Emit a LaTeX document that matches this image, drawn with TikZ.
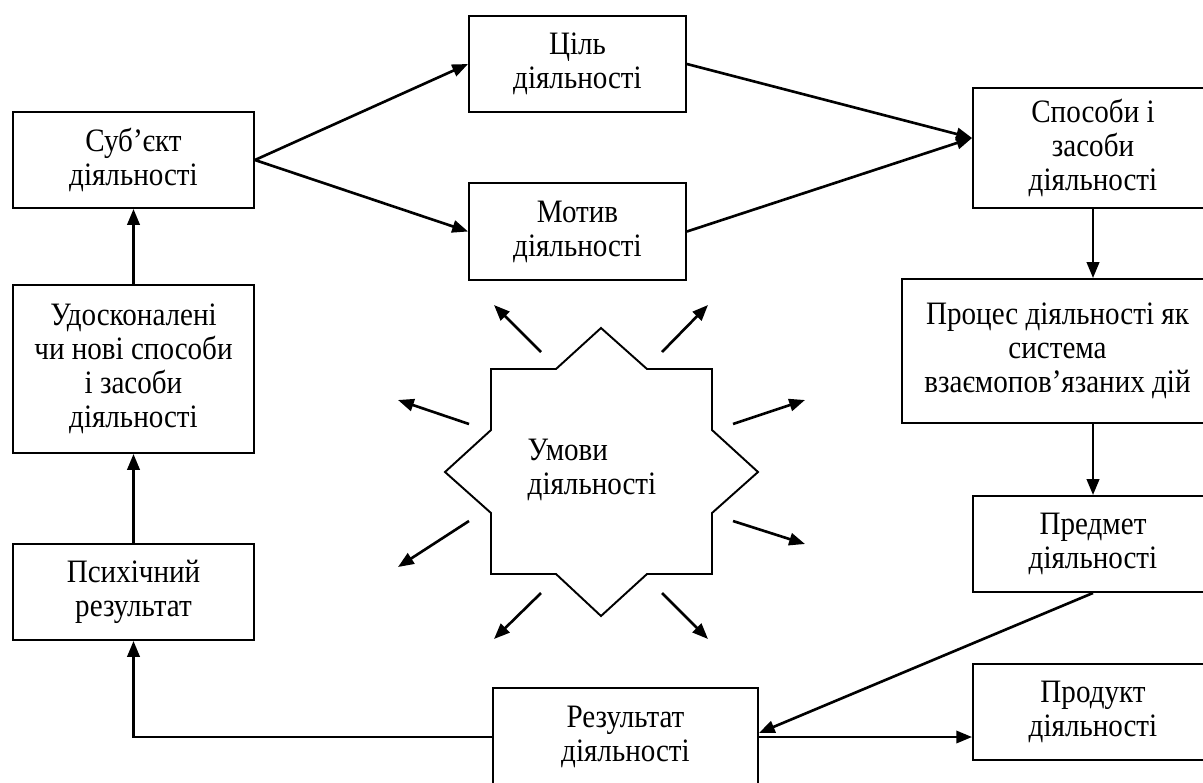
\documentclass[tikz,border=0pt]{standalone}
\usepackage{fontspec}
\setmainfont{Liberation Serif}[FakeStretch=0.89]
\usetikzlibrary{arrows.meta,calc}
\begin{document}
\begin{tikzpicture}[
    x=0.02cm, y=-0.02cm,
    every node/.style={align=center, inner sep=0pt, font=\fontsize{18.6}{19.3}\selectfont},
    box/.style={rectangle, draw, line width=1.1pt}, % boxes of the scheme
    link/.style={line width=1.5pt, -{Triangle[length=9pt,width=7pt]}},
    ray/.style={line width=1.5pt, -{Triangle[length=9pt,width=7pt]}} % rays of the star
]
\clip (0,0) rectangle (1203,782);

% left column
\node[box, minimum width=4.82cm, minimum height=1.92cm] (subj) at (133.5,160) {Суб’єкт\\діяльності};
\node[box, minimum width=4.82cm, minimum height=3.36cm] (improved) at (133.5,369) {Удосконалені\\чи нові способи\\і засоби\\діяльності};
\node[box, minimum width=4.82cm, minimum height=1.92cm] (psych) at (133.5,592) {Психічний\\результат};

% middle
\node[box, minimum width=4.34cm, minimum height=1.92cm] (goal) at (577.5,64) {Ціль\\діяльності};
\node[box, minimum width=4.34cm, minimum height=1.94cm] (motive) at (577.5,231.5) {Мотив\\діяльності};
\node[box, minimum width=5.30cm, minimum height=1.96cm] (res) at (625.5,737) {Результат\\діяльності};

% right column
\node[box, minimum width=4.80cm, minimum height=2.40cm] (means) at (1093,148) {Способи і\\засоби\\діяльності};
\node[box, minimum width=6.22cm, minimum height=2.88cm] (process) at (1057.5,351) {Процес діяльності як\\система\\взаємопов’язаних дій};
\node[box, minimum width=4.80cm, minimum height=1.92cm] (pred) at (1093,544) {Предмет\\діяльності};
\node[box, minimum width=4.80cm, minimum height=1.92cm] (prod) at (1093,712) {Продукт\\діяльності};

% conditions
\draw[line width=1.1pt] (601,328) -- (647,369) -- (712,369) -- (712,430) -- (758,472) -- (712,513)
    -- (712,574) -- (647,574) -- (601,616) -- (556,574) -- (491,574) -- (491,513) -- (445,472)
    -- (491,430) -- (491,369) -- (556,369) -- cycle;
\node[align=left] (cond) at (592,470) {Умови\\діяльності};
\foreach \xa/\ya/\xb/\yb in {541/352/494/305, 662/352/708/305, 469/424/398/400, 733/424/805/400,
    469/521/398/567, 733/521/805/544, 541/593/494/639, 662/593/708/639}
    \draw[ray] (\xa,\ya) -- (\xb,\yb);

% connectors
\coordinate (meansin) at ($(means.west)+(0,-10)$);
\draw[link] (subj.east) -- (goal.west);
\draw[link] (subj.east) -- (motive.west);
\draw[link] (goal.east) -- (meansin);
\draw[link] (motive.east) -- (meansin);
\draw[link] (means.south) -- (means.south |- process.north);
\draw[link] (pred.north |- process.south) -- (pred.north);
\draw[link] (pred.south) -- ($(res.east)+(0,-4)$);
\draw[link] (res.east) -- (res.east -| prod.west);
\draw[link] (res.west) -| (psych.south);
\draw[link] (psych.north) -- (improved.south);
\draw[link] (improved.north) -- (subj.south);
\end{tikzpicture}
\end{document}
